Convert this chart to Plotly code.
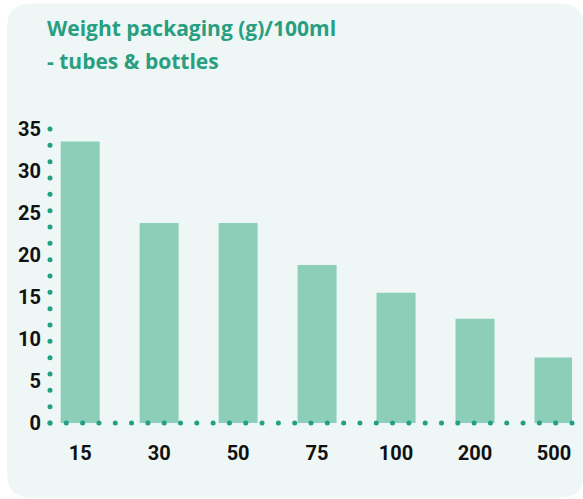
import numpy as np
import plotly.graph_objects as go

categories = ["15", "30", "50", "75", "100", "200", "500"]
values = [33.5, 23.8, 23.8, 18.8, 15.5, 12.4, 7.8]
y_ticks = [0, 5, 10, 15, 20, 25, 30, 35]

W, H = 583, 499
L, R, T, B = 50, 572, 129.3, 422.7
X_LO, X_HI = -0.382, 6.228
Y_LO, Y_HI = 0, 35

def px(x):
    return (x - L) / (R - L)

def py(y):
    return (B - y) / (B - T)

TEAL = "#22A083"
BAR = "#8DCEB9"
CARD = "#EEF7F5"

fig = go.Figure()
fig.add_trace(go.Bar(
    x=list(range(len(categories))), y=values,
    marker=dict(color=BAR, line=dict(width=0)),
    width=0.494, hoverinfo="skip", showlegend=False,
))

# dotted axis lines
xd = np.linspace(X_LO, X_HI, 33)
fig.add_trace(go.Scatter(x=xd, y=np.zeros_like(xd), mode="markers",
                         marker=dict(color=TEAL, size=5), cliponaxis=False,
                         showlegend=False, hoverinfo="skip"))
yd = np.linspace(Y_LO, Y_HI, 19)
fig.add_trace(go.Scatter(x=np.full_like(yd, X_LO), y=yd, mode="markers",
                         marker=dict(color=TEAL, size=5), cliponaxis=False,
                         showlegend=False, hoverinfo="skip"))

# rounded card
x0, x1, y0, y1, r = 7, 584, 4, 497, 24
def P(x, y):
    return f"{px(x):.5f},{py(y):.5f}"
path = (f"M {P(x0 + r, y0)} L {P(x1 - r, y0)} Q {P(x1, y0)} {P(x1, y0 + r)} "
        f"L {P(x1, y1 - r)} Q {P(x1, y1)} {P(x1 - r, y1)} "
        f"L {P(x0 + r, y1)} Q {P(x0, y1)} {P(x0, y1 - r)} "
        f"L {P(x0, y0 + r)} Q {P(x0, y0)} {P(x0 + r, y0)} Z")
fig.add_shape(type="path", path=path, xref="paper", yref="paper",
              fillcolor=CARD, line=dict(width=0), layer="below")

title_font = dict(family="Open Sans", size=21, color="#2A9E81", weight=700)
fig.add_annotation(text="Weight packaging (g)/100ml", xref="paper", yref="paper",
                   x=px(45), y=py(29), xanchor="left", yanchor="middle",
                   showarrow=False, font=title_font)
fig.add_annotation(text="- tubes &amp; bottles", xref="paper", yref="paper",
                   x=px(45), y=py(61), xanchor="left", yanchor="middle",
                   showarrow=False, font=title_font)

tick_font = dict(family="Roboto", size=20, color="#111111", weight="bold")
fig.update_xaxes(range=[X_LO, X_HI], tickvals=list(range(len(categories))),
                 ticktext=categories, showgrid=False, zeroline=False,
                 showline=False, ticks="", tickfont=tick_font,
                 ticklabelstandoff=16, fixedrange=True)
fig.update_yaxes(range=[Y_LO, Y_HI], tickvals=y_ticks, showgrid=False,
                 zeroline=False, showline=False, ticks="", tickfont=tick_font,
                 ticklabelstandoff=8, fixedrange=True)

fig.update_layout(
    width=W, height=H,
    margin=dict(l=L, r=W - R, t=T, b=H - B, pad=0),
    paper_bgcolor="white", plot_bgcolor="rgba(0,0,0,0)",
    bargap=0.5, showlegend=False,
)
fig.write_html("out.html", config={"displayModeBar": False, "staticPlot": True},
               post_script="document.body.style.margin='0';")
